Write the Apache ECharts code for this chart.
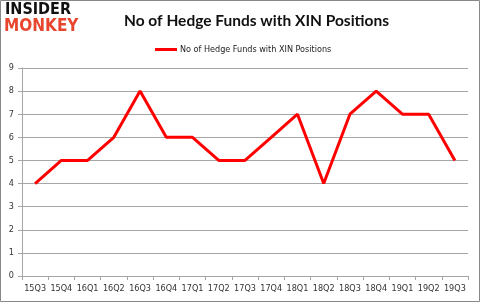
<!DOCTYPE html>
<html>
<head>
<meta charset="utf-8">
<script src="https://cdn.jsdelivr.net/npm/echarts@6/dist/echarts.min.js"></script>
<style>
html, body { margin: 0; padding: 0; background: #fff; }
#chart { width: 480px; height: 302px; }
</style>
</head>
<body>
<div id="chart"></div>
<script>
var quarters = ['15Q3', '15Q4', '16Q1', '16Q2', '16Q3', '16Q4', '17Q1', '17Q2', '17Q3',
    '17Q4', '18Q1', '18Q2', '18Q3', '18Q4', '19Q1', '19Q2', '19Q3'];
var fundCounts = [4, 5, 5, 6, 8, 6, 6, 5, 5, 6, 7, 4, 7, 8, 7, 7, 5];
var seriesName = 'No of Hedge Funds with XIN Positions';

var gridColor = '#a6a6a6';
var labelColor = '#333';

var myChart = echarts.init(document.getElementById('chart'));
var option = {
    animation: false,
    title: {
        text: 'No of Hedge Funds with XIN Positions',
        left: 119,
        top: 8,
        textStyle: {
            fontFamily: 'Lato',
            fontWeight: 'bold',
            fontSize: 15.5,
            color: '#111'
        }
    },
    legend: {
        data: [seriesName],
        left: 150,
        top: 40,
        itemWidth: 22,
        itemHeight: 3,
        itemGap: 4,
        icon: 'rect',
        textStyle: {
            fontFamily: 'DejaVu Sans Condensed',
            fontSize: 9,
            color: '#222',
            padding: [0, 0, 0, -2]
        }
    },
    graphic: [
        {
            type: 'rect',
            shape: { x: 0.5, y: 0.5, width: 479, height: 301 },
            style: { fill: 'none', stroke: '#888', lineWidth: 1 }
        },
        //logo
        {
            type: 'text',
            left: 5,
            top: 2,
            style: {
                text: 'INSIDER',
                font: 'bold 16px "DejaVu Sans Condensed"',
                fill: '#111'
            }
        },
        {
            type: 'text',
            left: 4,
            top: 18,
            style: {
                text: 'MONKEY',
                font: 'bold 17px "DejaVu Sans Condensed"',
                fill: '#e8452e'
            }
        }
    ],
    grid: {
        left: 22,
        right: 12,
        top: 68,
        bottom: 26,
        containLabel: false
    },
    xAxis: {
        type: 'category',
        data: quarters,
        boundaryGap: true,
        axisLine: { lineStyle: { color: gridColor } },
        axisTick: { show: true, interval: 0, length: 4, lineStyle: { color: gridColor } },
        axisLabel: {
            interval: 0,
            color: labelColor,
            fontFamily: 'DejaVu Sans Condensed',
            fontSize: 9,
            margin: 8
        }
    },
    yAxis: {
        type: 'value',
        min: 0,
        max: 9,
        interval: 1,
        axisLine: { show: true, lineStyle: { color: gridColor } },
        axisTick: { show: true, length: 4, inside: false, lineStyle: { color: gridColor } },
        axisLabel: {
            color: labelColor,
            fontFamily: 'DejaVu Sans Condensed',
            fontSize: 9,
            margin: 8
        },
        splitLine: { lineStyle: { color: gridColor } }
    },
    series: [
        {
            name: seriesName,
            type: 'line',
            data: fundCounts,
            symbol: 'none',
            lineStyle: { color: '#ff0000', width: 3 },
            itemStyle: { color: '#ff0000' }
        }
    ]
};
myChart.setOption(option);
</script>
</body>
</html>
